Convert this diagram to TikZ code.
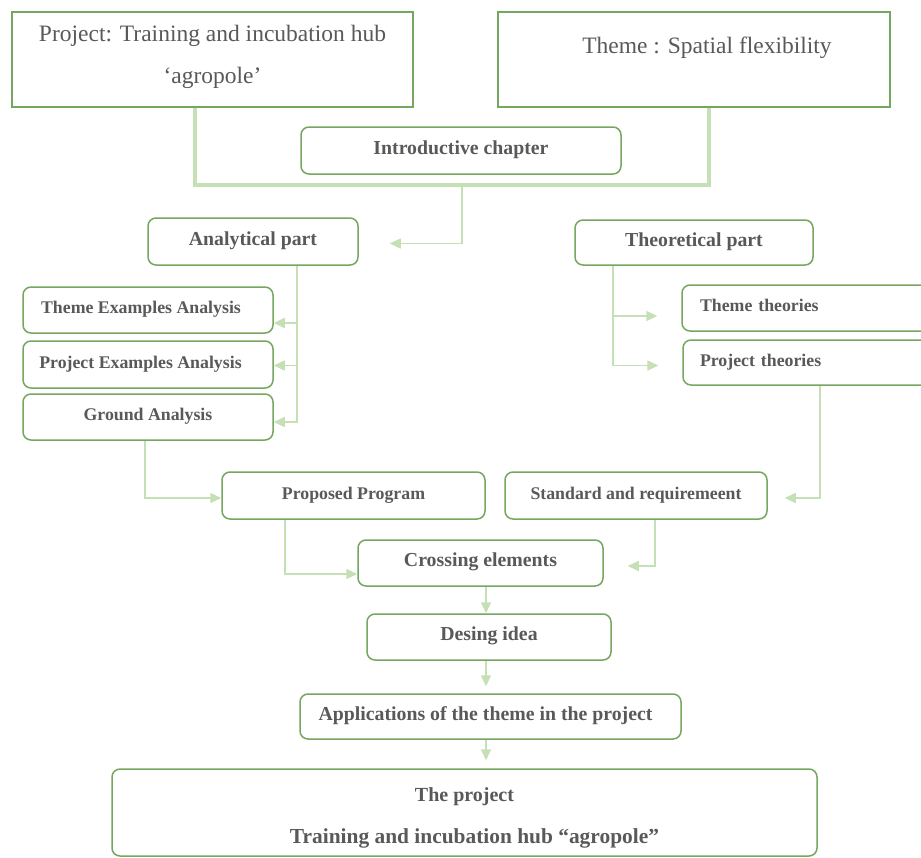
\documentclass[tikz,border=0pt]{standalone}
\usepackage{fontspec}
\setmainfont{Liberation Serif}
\usetikzlibrary{arrows.meta,calc}
\definecolor{bcol}{RGB}{118,167,96}
\definecolor{lcol}{RGB}{197,224,180}
\definecolor{tcol}{RGB}{89,89,89}
\begin{document}
\begin{tikzpicture}[x=1pt,y=-1pt,
  box/.style={draw=bcol, line width=1.5pt, rounded corners=8pt, fill=white, text=tcol, inner sep=0pt, text height=0.75em, text depth=0em},
  mbox/.style={draw=bcol, line width=1.5pt, rounded corners=8pt, fill=white, text=tcol, inner sep=0pt, align=center},
  sq/.style={draw=bcol, line width=1.5pt, fill=white, text=tcol, inner sep=0pt, align=center, font=\fontsize{23.5}{42}\selectfont},
  conn/.style={draw=lcol, line width=1.5pt, -{Triangle[length=11pt,width=10pt]}},
  plain/.style={draw=lcol, line width=1.5pt},
  bracket/.style={draw=lcol, line width=4pt},
  bigf/.style={font=\bfseries\fontsize{19.8}{24}\selectfont},
  smf/.style={font=\bfseries\fontsize{17.8}{22}\selectfont},
]
\fill[white] (0,0) rectangle (921,857);
\useasboundingbox (0,0) rectangle (921,857);

% top boxes
\node[sq, minimum width=401pt, minimum height=95pt] (proj) at (212.5,59.5) {Project: Training and incubation hub\\‘agropole’\rule[-11pt]{0pt}{0pt}};
\node[sq, minimum width=392pt, minimum height=95pt, text height=16pt, text depth=29pt] (theme) at (694,59.5) {\hspace*{26pt}Theme : Spatial flexibility};
\node[box, bigf, minimum width=320pt, minimum height=47pt] (intro) at (461,150.5) {Introductive chapter};

% analytical / theoretical
\node[box, bigf, minimum width=210pt, minimum height=47pt] (anal) at (253,241.5) {Analytical part};
\node[box, bigf, minimum width=238pt, minimum height=45pt] (theo) at (694,242.5) {Theoretical part};

\node[box, smf, minimum width=250pt, minimum height=46pt] (tex) at (148,310) {Theme Examples Analysis\hspace*{14pt}};
\node[box, smf, minimum width=250pt, minimum height=47pt] (pex) at (148,364.5) {Project Examples Analysis\hspace*{15pt}};
\node[box, smf, minimum width=250pt, minimum height=46pt] (gnd) at (148,417) {Ground Analysis};

\node[box, smf, text width=222pt, inner xsep=18pt, align=left, minimum height=46pt] (tth) at (811,308) {Theme theories};
\node[box, smf, text width=222pt, inner xsep=17pt, align=left, minimum height=45pt] (pth) at (811,362.5) {Project theories};

% middle
\node[box, smf, minimum width=263pt, minimum height=47pt] (prop) at (353.5,495.5) {Proposed Program};
\node[box, smf, minimum width=262pt, minimum height=47pt] (std) at (636,495.5) {Standard and requiremeent};
\node[box, bigf, minimum width=245pt, minimum height=46pt] (cross) at (480.5,563) {Crossing elements};
\node[box, bigf, minimum width=244pt, minimum height=46pt] (des) at (489,637) {Desing idea};
\node[box, bigf, minimum width=381pt, minimum height=45pt] (app) at (490.5,716.5) {Applications of the theme in the project\hspace*{10pt}};
\node[mbox, font=\bfseries\fontsize{20}{42}\selectfont, minimum width=705pt, minimum height=87pt] (final) at (464.5,812.5) {\rule{0pt}{24pt}The project\\\hspace*{20pt}{\fontsize{21.4}{42}\selectfont Training and incubation hub “agropole”}};

% bracket
\coordinate (bl) at (195,185);
\coordinate (br) at (709,185);
\coordinate (bm) at (462,185);
\draw[bracket] (proj.south -| bl) -- (bl) -- (br) -- (theme.south -| br);
\draw[conn, shorten >=31pt] (bm) |- ($(anal.east)+(0,2)$);

% analytical branches
\coordinate (ax) at (297,0);
\coordinate (t1) at ($(tex.east)+(0,13)$);
\coordinate (t2) at ($(pex.east)+(0,1)$);
\coordinate (t3) at ($(gnd.east)+(0,5)$);
\draw[conn] (anal.south -| ax) |- (t3);
\draw[conn] (ax |- t1) -- (t1);
\draw[conn] (ax |- t2) -- (t2);

% theoretical branches
\coordinate (tx) at (613,0);
\coordinate (u1) at ($(tth.west)+(-24,8)$);
\coordinate (u2) at ($(pth.west)+(-24,3)$);
\draw[conn] (theo.south -| tx) |- (u2);
\draw[conn] (tx |- u1) -- (u1);

% to middle row
\coordinate (px) at (820,0);
\coordinate (v1) at ($(std.east)+(17,2.5)$);
\draw[conn] (pth.south -| px) |- (v1);
\coordinate (gx) at (145,0);
\coordinate (w1) at ($(prop.west)+(0,2.5)$);
\draw[conn] (gnd.south -| gx) |- (w1);

% to crossing
\coordinate (qx) at (285,0);
\coordinate (w2) at ($(cross.west)+(0,11)$);
\draw[conn] (prop.south -| qx) |- (w2);
\coordinate (sx) at (655,0);
\coordinate (w3) at ($(cross.east)+(24,3)$);
\draw[conn] (std.south -| sx) |- (w3);

% vertical chain
\coordinate (mx) at (486,0);
\draw[conn] (cross.south -| mx) -- (des.north -| mx);
\draw[conn, shorten >=7pt] (des.south -| mx) -- (app.north -| mx);
\draw[conn, shorten >=8pt] (app.south -| mx) -- (final.north -| mx);
\end{tikzpicture}
\end{document}
